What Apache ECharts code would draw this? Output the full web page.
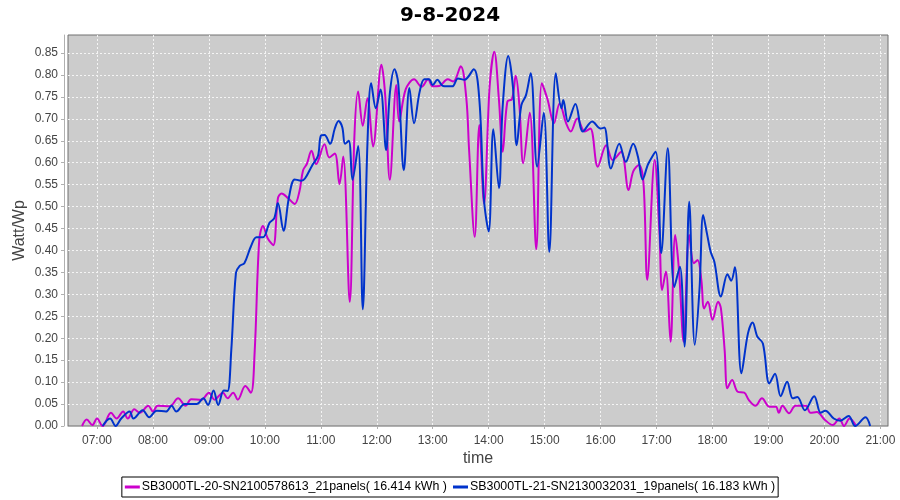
<!DOCTYPE html>
<html>
<head>
<meta charset="utf-8">
<script src="https://cdn.jsdelivr.net/npm/echarts@6/dist/echarts.min.js"></script>
<style>html,body{margin:0;padding:0;background:#fff}#c{width:900px;height:500px}</style>
</head>
<body>
<div id="c"></div>
<script>
const titleText = '9-8-2024';
const xTickLabels = ['07:00','08:00','09:00','10:00','11:00','12:00','13:00','14:00','15:00','16:00','17:00','18:00','19:00','20:00','21:00'];
const yTickLabels = ['0.00','0.05','0.10','0.15','0.20','0.25','0.30','0.35','0.40','0.45','0.50','0.55','0.60','0.65','0.70','0.75','0.80','0.85'];
const seriesNames = ['SB3000TL-20-SN2100578613_21panels( 16.414 kWh )','SB3000TL-21-SN2130032031_19panels( 16.183 kWh )'];

const magentaData = [
['06:44',0],['06:49',0.015],['06:55',0.002],['07:00',0.017],['07:06',0],['07:15',0.030],['07:21',0.017],['07:28',0.033],['07:33',0.017],['07:40',0.038],['07:46',0.030],['07:55',0.046],['08:00',0.033],['08:05',0.046],['08:18',0.045],['08:27',0.063],['08:35',0.046],['08:41',0.061],['08:52',0.060],['09:00',0.076],['09:06',0.060],['09:15',0.076],['09:20',0.063],['09:26',0.076],['09:31',0.060],['09:39',0.091],['09:45',0.076],['09:49',0.166],['09:54',0.424],['09:58',0.456],
['10:03',0.428],['10:09',0.412],['10:14',0.519],['10:18',0.530],['10:25',0.519],['10:32',0.506],['10:37',0.534],['10:41',0.583],['10:45',0.597],['10:50',0.627],['10:55',0.597],['11:04',0.642],['11:09',0.612],['11:15',0.621],['11:20',0.551],['11:24',0.614],['11:31',0.283],['11:36',0.659],['11:40',0.762],['11:45',0.684],['11:50',0.747],['11:56',0.637],
['12:05',0.823],['12:09',0.754],['12:14',0.561],['12:21',0.777],['12:24',0.694],['12:31',0.767],['12:40',0.790],['12:48',0.773],['12:55',0.790],['13:00',0.774],['13:07',0.775],['13:16',0.790],['13:22',0.785],['13:30',0.820],['13:36',0.747],['13:39',0.629],['13:45',0.431],['13:50',0.686],['13:55',0.507],
['14:01',0.773],['14:06',0.853],['14:11',0.743],['14:15',0.625],['14:20',0.739],['14:25',0.745],['14:29',0.798],['14:33',0.728],['14:37',0.599],['14:44',0.714],['14:51',0.403],['14:57',0.781],['15:03',0.745],['15:10',0.690],['15:16',0.735],['15:23',0.690],['15:28',0.671],['15:35',0.701],['15:43',0.671],['15:49',0.678],['15:57',0.591],
['16:06',0.640],['16:13',0.606],['16:22',0.625],['16:30',0.538],['16:35',0.580],['16:41',0.595],['16:46',0.553],['16:50',0.333],['16:58',0.606],['17:03',0.447],['17:06',0.310],['17:10',0.352],['17:15',0.192],['17:20',0.435],['17:24',0.356],['17:29',0.192],['17:35',0.435],['17:40',0.371],['17:44',0.378],['17:48',0.333],['17:51',0.268],['17:55',0.283],
['18:00',0.242],['18:06',0.283],['18:09',0.268],['18:13',0.173],['18:16',0.086],['18:21',0.105],['18:27',0.078],['18:34',0.076],['18:39',0.059],['18:46',0.046],['18:53',0.063],['19:01',0.044],['19:08',0.044],['19:11',0.030],['19:15',0.046],['19:22',0.029],['19:29',0.046],['19:40',0.046],['19:45',0.030],['19:52',0.032],
['20:00',0.015],['20:09',0.002],['20:16',0.017],['20:21',0],['20:27',0.017],['20:34',0]
];

const blueData = [
['07:06',0],['07:14',0.017],['07:20',0],['07:26',0.017],['07:35',0.033],['07:39',0.017],['07:49',0.036],['07:56',0.020],['08:04',0.035],['08:14',0.033],['08:20',0.046],['08:25',0.033],['08:34',0.050],['08:47',0.050],['08:54',0.063],['08:59',0.048],['09:05',0.081],['09:10',0.048],['09:16',0.081],['09:20',0.080],['09:24',0.173],['09:29',0.349],['09:33',0.365],['09:38',0.371],['09:45',0.409],['09:51',0.430],['09:58',0.430],
['10:05',0.463],['10:10',0.473],['10:14',0.508],['10:20',0.445],['10:26',0.523],['10:32',0.562],['10:39',0.559],['10:43',0.564],['10:51',0.595],['10:57',0.616],['11:00',0.661],['11:04',0.663],['11:10',0.643],['11:15',0.678],['11:19',0.695],['11:23',0.681],['11:26',0.643],['11:30',0.650],['11:34',0.561],['11:40',0.638],['11:45',0.266],['11:50',0.644],['11:54',0.781],['11:59',0.724],
['12:04',0.767],['12:10',0.629],['12:14',0.758],['12:19',0.813],['12:23',0.781],['12:29',0.583],['12:35',0.770],['12:40',0.690],['12:46',0.762],['12:51',0.790],['12:56',0.790],['13:00',0.777],['13:05',0.789],['13:11',0.775],['13:21',0.774],['13:27',0.792],['13:34',0.789],['13:44',0.813],['13:50',0.743],['13:55',0.515],
['14:00',0.443],['14:05',0.676],['14:11',0.542],['14:15',0.728],['14:21',0.843],['14:26',0.773],['14:30',0.640],['14:35',0.731],['14:40',0.754],['14:45',0.804],['14:52',0.591],['14:59',0.714],['15:05',0.397],['15:12',0.804],['15:18',0.724],['15:20',0.743],['15:25',0.694],['15:33',0.734],['15:41',0.671],['15:51',0.694],
['16:00',0.678],['16:04',0.680],['16:11',0.587],['16:20',0.643],['16:27',0.602],['16:35',0.643],['16:40',0.614],['16:45',0.562],['16:51',0.597],['16:59',0.625],['17:05',0.394],['17:12',0.633],['17:19',0.317],['17:25',0.363],['17:30',0.181],['17:35',0.511],['17:41',0.185],['17:46',0.310],['17:50',0.481],['17:54',0.439],['17:58',0.397],
['18:02',0.374],['18:09',0.295],['18:16',0.346],['18:20',0.331],['18:24',0.362],['18:31',0.120],['18:38',0.211],['18:43',0.236],['18:48',0.204],['18:54',0.188],['19:01',0.097],['19:07',0.119],['19:13',0.068],['19:20',0.101],['19:26',0.063],['19:31',0.066],['19:39',0.036],['19:49',0.068],['19:56',0.030],
['20:01',0.035],['20:10',0.017],['20:17',0.012],['20:26',0.023],['20:33',0],['20:44',0.020],['20:49',0]
];

function toHours(s){ const p = s.split(':'); return (+p[0]) + (+p[1]) / 60; }
const toXY = arr => arr.map(d => [toHours(d[0]), d[1]]);
const xTickValues = xTickLabels.map(toHours);
const yTickValues = yTickLabels.map(Number);

const FONT = 'Liberation Sans';
const chart = echarts.init(document.getElementById('c'), null, {renderer: 'canvas'});
chart.setOption({
  animation: false,
  backgroundColor: '#ffffff',
  title: {
    text: titleText, left: 'center', top: 1,
    textStyle: {fontFamily: 'DejaVu Sans', fontWeight: 'bold', fontSize: 20, color: '#000'}
  },
  legend: {
    bottom: 3, left: 'center',
    orient: 'horizontal',
    data: seriesNames,
    icon: 'rect', itemWidth: 15, itemHeight: 3, itemGap: 6,
    borderColor: '#000', borderWidth: 1, padding: [4, 3, 4, 3],
    textStyle: {fontFamily: FONT, fontSize: 12.4, color: '#000', padding: [0, 0, 0, -3]}
  },
  grid: {
    left: 68, right: 12, top: 35, bottom: 74,
    show: true, backgroundColor: '#cccccc', borderColor: '#707070', borderWidth: 1
  },
  xAxis: {
    type: 'value', min: 6.482, max: 21.136,
    name: 'time', nameLocation: 'middle', nameGap: 21, nameMoveOverlap: false,
    nameTextStyle: {fontFamily: FONT, fontSize: 16, color: '#444'},
    offset: 4,
    axisLine: {show: true, lineStyle: {color: '#b0b0b0', width: 1}},
    axisTick: {show: true, length: 3, customValues: xTickValues, lineStyle: {color: '#b0b0b0'}},
    axisLabel: {
      customValues: xTickValues, margin: 5,
      fontFamily: FONT, fontSize: 12, color: '#444',
      formatter: v => { const i = xTickValues.findIndex(t => Math.abs(t - v) < 1e-6); return i >= 0 ? xTickLabels[i] : ''; }
    },
    splitLine: {show: true, lineStyle: {color: '#f4f4f4', type: [2, 2], width: 1}}
  },
  yAxis: {
    type: 'value', min: 0, max: 0.891,
    name: 'Watt/Wp', nameLocation: 'middle', nameGap: 36, nameRotate: 90, nameMoveOverlap: false,
    nameTextStyle: {fontFamily: FONT, fontSize: 16, color: '#444'},
    offset: 4,
    axisLine: {show: true, lineStyle: {color: '#b0b0b0', width: 1}},
    axisTick: {show: true, length: 3, customValues: yTickValues, lineStyle: {color: '#b0b0b0'}},
    axisLabel: {
      customValues: yTickValues, margin: 6,
      fontFamily: FONT, fontSize: 12, color: '#444',
      formatter: v => { const i = yTickValues.findIndex(t => Math.abs(t - v) < 1e-6); return i >= 0 ? yTickLabels[i] : ''; }
    },
    splitLine: {show: true, lineStyle: {color: '#f4f4f4', type: [2, 2], width: 1}}
  },
  series: [
    {
      name: seriesNames[0], type: 'line', data: toXY(magentaData),
      smooth: 0.35, showSymbol: false, clip: true,
      itemStyle: {color: '#cc00cc'}, lineStyle: {color: '#cc00cc', width: 2}
    },
    {
      name: seriesNames[1], type: 'line', data: toXY(blueData),
      smooth: 0.35, showSymbol: false, clip: true,
      itemStyle: {color: '#0033cc'}, lineStyle: {color: '#0033cc', width: 2}
    }
  ]
});
</script>
</body>
</html>
